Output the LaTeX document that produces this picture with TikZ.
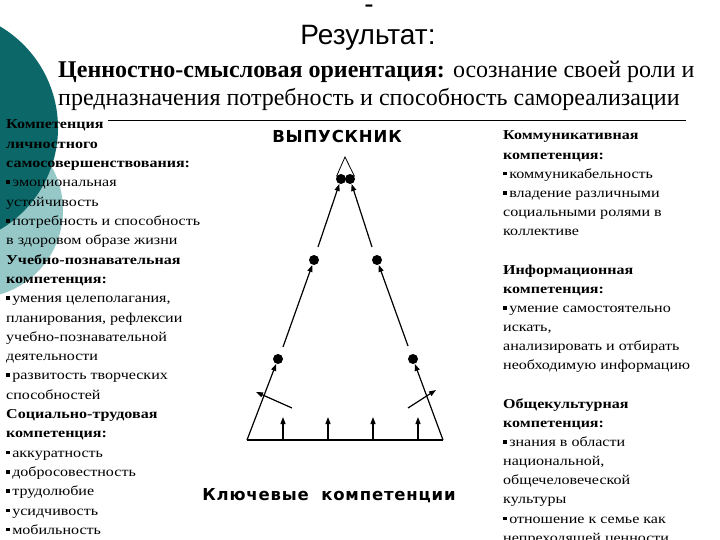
\documentclass[tikz,border=0pt]{standalone}
\usepackage{fontspec}
\setmainfont{Liberation Serif}
\newfontfamily\colfont[FakeStretch=1.18]{Liberation Serif}
\newfontfamily\titlesans{Liberation Sans}
\newfontfamily\vsans[LetterSpace=5]{DejaVu Sans}
\usetikzlibrary{arrows.meta}
\definecolor{darkteal}{RGB}{12,104,104}
\definecolor{lightteal}{RGB}{150,200,200}
\newcommand\sqb{\raisebox{0.45ex}{\rule{3.6pt}{3.6pt}}\hspace{2.5pt}}
\begin{document}
\begin{tikzpicture}[x=1pt,y=-1pt,
  coltext/.style={anchor=base west, inner sep=0pt, font=\colfont\fontsize{13.6}{15}\selectfont},
  dot/.style={circle, fill=black, inner sep=0pt, minimum size=10pt},
  arr/.style={-{Triangle[length=7pt,width=5pt]}, line width=1.2pt},
  ln/.style={line width=1.2pt}]
\useasboundingbox (0,0) rectangle (720,540);
\clip (0,0) rectangle (720,540);
\fill[white] (0,0) rectangle (720,540);
\fill[lightteal] (-25,210) circle[radius=88pt];
\fill[darkteal] (-60,128) circle[radius=118pt];

% titles
\node[anchor=base, inner sep=0pt, font=\titlesans\fontsize{28}{30}\selectfont] (dash) at (369,14) {-};
\node[anchor=base, inner sep=0pt, font=\titlesans\fontsize{28}{30}\selectfont] (res) at (368,45) {Результат:};
\node[anchor=base west, inner sep=0pt, font=\fontsize{24}{26}\selectfont] (t1) at (58,78) {\textbf{Ценностно-смысловая ориентация:} осознание своей роли и};
\node[anchor=base west, inner sep=0pt, font=\fontsize{24}{26}\selectfont] (t2) at (58,106) {предназначения потребность и способность самореализации};
\coordinate (hl1) at (108,121);
\coordinate (hl2) at (686,121);
\draw[line width=1pt] (hl1) -- (hl2);

% left column
\foreach \t [count=\i from 0] in {
 {\textbf{Компетенция}},
 {\textbf{личностного}},
 {\textbf{самосовершенствования:}},
 {\sqb эмоциональная},
 {устойчивость},
 {\sqb потребность и способность},
 {в здоровом образе жизни},
 {\textbf{Учебно-познавательная}},
 {\textbf{компетенция:}},
 {\sqb умения целеполагания,},
 {планирования, рефлексии},
 {учебно-познавательной},
 {деятельности},
 {\sqb развитость творческих},
 {способностей},
 {\textbf{Социально-трудовая}},
 {\textbf{компетенция:}},
 {\sqb аккуратность},
 {\sqb добросовестность},
 {\sqb трудолюбие},
 {\sqb усидчивость},
 {\sqb мобильность}}
 \node[coltext] (L\i) at (6,{129+19.3*\i}) {\t};

% right column
\foreach \i/\t in {
 0/{\textbf{Коммуникативная}},
 1/{\textbf{компетенция:}},
 2/{\sqb коммуникабельность},
 3/{\sqb владение различными},
 4/{социальными ролями в},
 5/{коллективе},
 7/{\textbf{Информационная}},
 8/{\textbf{компетенция:}},
 9/{\sqb умение самостоятельно},
 10/{искать,},
 11/{анализировать и отбирать},
 12/{необходимую информацию},
 14/{\textbf{Общекультурная}},
 15/{\textbf{компетенция:}},
 16/{\sqb знания в области},
 17/{национальной,},
 18/{общечеловеческой},
 19/{культуры},
 20/{\sqb отношение к семье как},
 21/{непреходящей ценности}}
 \node[coltext] (R\i) at (503,{140+19.15*\i}) {\t};

% labels of the triangle
\node[anchor=base, inner sep=0pt, font=\vsans\bfseries\fontsize{16.5}{18}\selectfont] (grad) at (337,143) {ВЫПУСКНИК};
\node[anchor=base, inner sep=0pt, font=\vsans\bfseries\fontsize{16.5}{18}\selectfont] (key) at (329,500) {Ключевые\hspace{6pt} компетенции};

% triangle
\node[dot] (d1) at (341,179) {};
\node[dot] (d2) at (350,179) {};
\node[dot] (m1) at (314,260) {};
\node[dot] (m2) at (377,260) {};
\node[dot] (l1) at (278,359) {};
\node[dot] (l2) at (413,359) {};
\coordinate (apex) at (345,157);
\coordinate (bl) at (247,440);
\coordinate (br) at (443,440);
\draw[line width=0.8pt] (d1.150) -- (apex) -- (d2.30);
\draw[ln] (bl) -- (br);
\draw[arr] (bl) -- (l1);
\draw[arr] (br) -- (l2);
\coordinate (s1) at (283,347);
\coordinate (s2) at (408,346);
\coordinate (s3) at (318,247);
\coordinate (s4) at (372,247);
\draw[arr] (s1) -- (m1);
\draw[arr] (s2) -- (m2);
\draw[arr] (s3) -- (d1);
\draw[arr] (s4) -- (d2);
\coordinate (o1s) at (292,408);
\coordinate (o1e) at (256,392);
\coordinate (o2s) at (408,408);
\coordinate (o2e) at (436,390);
\draw[arr] (o1s) -- (o1e);
\draw[arr] (o2s) -- (o2e);
\foreach \x [count=\k] in {283,328,373,418} {
  \coordinate (vb\k) at (\x,440);
  \coordinate (vt\k) at (\x,417);
  \draw[arr] (vb\k) -- (vt\k);
}
\end{tikzpicture}
\end{document}
